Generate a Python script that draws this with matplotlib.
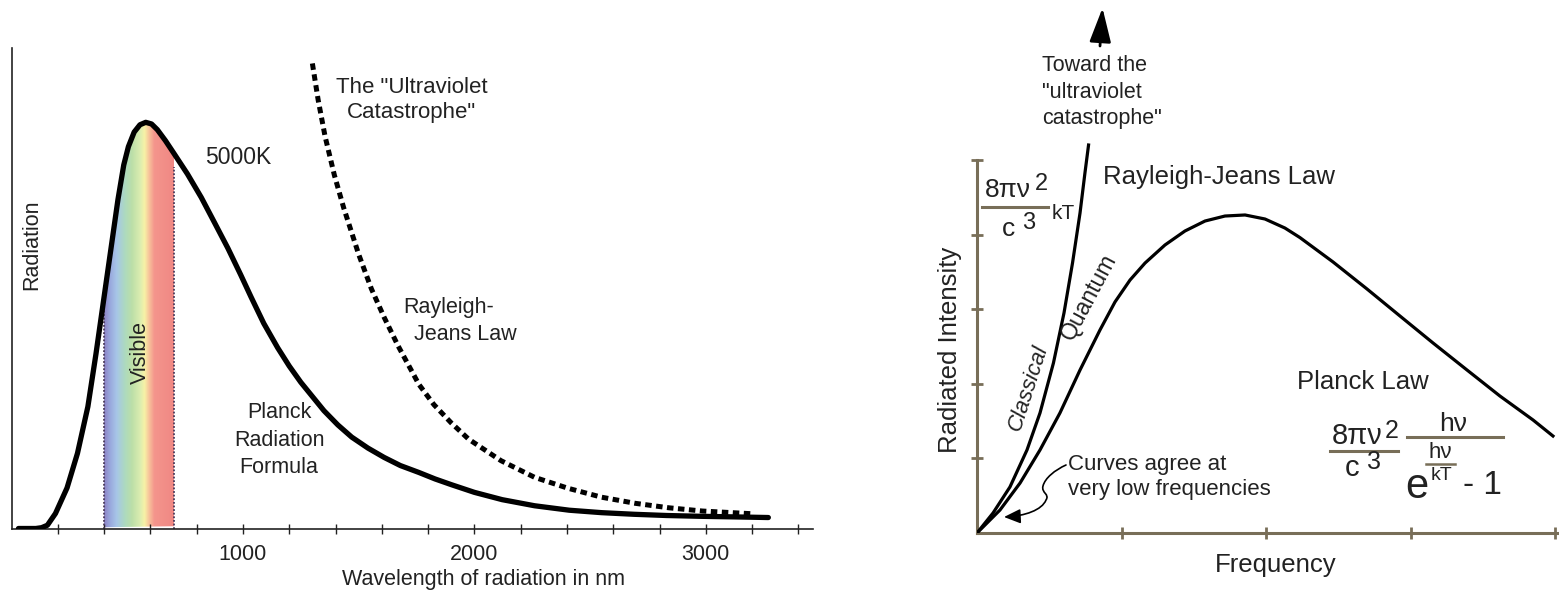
# Radiacion de cuerpo negro: Planck vs Rayleigh-Jeans
# Panel izquierdo: espectro en longitud de onda (5000 K)
# Panel derecho: intensidad en funcion de la frecuencia
########################################################################################
import numpy as np
import matplotlib
matplotlib.use('Agg')
import matplotlib.pyplot as plt
from matplotlib.colors import LinearSegmentedColormap
from matplotlib.patches import Polygon, FancyArrowPatch
from matplotlib.lines import Line2D
from matplotlib.path import Path
########################################################################################

plt.rcParams['font.family'] = ['Liberation Sans', 'DejaVu Sans']

# ---------------- datos panel izquierdo ----------------
# curva de Planck a 5000K (nm, % del maximo)
planck_nm = [30, 105, 130, 155, 190, 240, 285, 330, 365, 400, 430, 460, 485, 505,
             530, 555, 580, 605, 630, 665, 700, 760, 820, 880, 935, 990, 1035, 1090,
             1150, 1200, 1250, 1300, 1350, 1410, 1470, 1540, 1610, 1680, 1760, 1830,
             1900, 2000, 2120, 2260, 2410, 2550, 2690, 2830, 2980, 3130, 3270]
planck_rad = [0, 0, 0.2, 0.8, 3.7, 10, 18.5, 30, 43, 57, 69, 81, 89.5, 94,
              97.6, 99.4, 100, 99.6, 98.2, 95.5, 92.5, 87.3, 81.5, 75, 69, 62.5, 57, 50.5,
              44.5, 40, 36, 32.5, 29, 25.5, 22.5, 19.8, 17.5, 15.5, 13.8, 12.2,
              10.8, 8.9, 7.1, 5.6, 4.5, 3.9, 3.5, 3.2, 3.0, 2.85, 2.7]

# ley de Rayleigh-Jeans (punteada)
rj_nm = [1300, 1325, 1355, 1395, 1435, 1500, 1555, 1610, 1670, 1760, 1825, 1900,
         1975, 2115, 2260, 2405, 2550, 2695, 2840, 2985, 3210]
rj_rad = [114.5, 105.5, 96.5, 87, 79, 67.5, 59, 52, 45, 35.5, 30.5, 26,
          22, 16.7, 12.6, 9.9, 7.7, 6.2, 5.1, 4.3, 3.6]

# bordes de la banda visible y altura de las lineas punteadas
visible_edges = [400, 700]
visible_edge_top = [60, 89]

wl_ticks = list(range(200, 3401, 200))
wl_labels = ['1000', '2000', '3000']

# ---------------- datos panel derecho ----------------
freq_classical = [0, 0.111, 0.228, 0.346, 0.436, 0.529, 0.602, 0.661, 0.713, 0.747, 0.772]
int_classical = [0, 0.268, 0.617, 1.113, 1.609, 2.279, 2.949, 3.619, 4.290, 4.826, 5.201]

freq_quantum = [0, 0.159, 0.298, 0.436, 0.574, 0.713, 0.851, 0.955, 1.059, 1.163,
                1.301, 1.439, 1.578, 1.716, 1.855, 1.993, 2.131, 2.235, 2.464, 2.699,
                2.927, 3.156, 3.391, 3.619, 3.848, 3.986]
int_quantum = [0, 0.308, 0.670, 1.113, 1.609, 2.185, 2.721, 3.097, 3.391, 3.619,
               3.861, 4.048, 4.182, 4.249, 4.263, 4.209, 4.088, 3.960, 3.633, 3.271,
               2.909, 2.547, 2.185, 1.836, 1.515, 1.300]

freq_ticks = [1, 2, 3, 4]
int_ticks = [1, 2, 3, 4, 5]

########################################################################################
W, H = 1559, 596
TEXT = '#222222'
AXC = '#786e58'   # color de los ejes del panel derecho

def fx(x):
    return x / W

def fy(y):
    return 1 - y / H

def label(x, y, s, **kw):
    kw.setdefault('color', TEXT)
    return fig.text(fx(x), fy(y), s, **kw)

def bar(x0, x1, y, lw=2.2):
    fig.add_artist(Line2D([fx(x0), fx(x1)], [fy(y), fy(y)],
                          transform=fig.transFigure, color=AXC, lw=lw))

fig = plt.figure(figsize=(W / 100, H / 100), dpi=100)

# ================= panel izquierdo =================
ax1 = fig.add_axes([fx(11.5), fy(528.5), 801.5 / W, 480.5 / H])

# banda visible con degradado, recortada bajo la curva
vis_colors = [(0.0, '#8c82c4'), (0.08, '#98a6dc'), (0.18, '#a7c6e8'),
              (0.30, '#addabf'), (0.40, '#bcdfa8'), (0.52, '#dcedb0'),
              (0.58, '#f7f2a6'), (0.65, '#f7c09a'), (0.72, '#f4958c'),
              (1.0, '#f08884')]
cmap = LinearSegmentedColormap.from_list('visible', vis_colors)
grad = np.linspace(0, 1, 256).reshape(1, -1)
im = ax1.imshow(grad, extent=[visible_edges[0], visible_edges[1], 0, 110],
                aspect='auto', cmap=cmap, zorder=1, interpolation='bilinear')
clip = Polygon(np.column_stack([planck_nm, planck_rad]), closed=True,
               transform=ax1.transData, facecolor='none', edgecolor='none')
im.set_clip_path(clip)

ax1.vlines(visible_edges, 0, visible_edge_top, colors='#4a3a5a',
           linestyles=(0, (1, 1)), lw=1.3, zorder=2)

ax1.plot(planck_nm, planck_rad, color='black', lw=3.8,
         solid_capstyle='round', solid_joinstyle='round', zorder=3)
ax1.plot(rj_nm, rj_rad, color='black', lw=3.6, linestyle=(0, (1.3, 0.9)),
         dash_capstyle='butt', zorder=3)

ax1.set_xlim(0, 3463)
ax1.set_ylim(0, 118.3)
ax1.set_xticks(wl_ticks)
ax1.set_xticklabels([str(t) if str(t) in wl_labels else '' for t in wl_ticks])
ax1.set_yticks([])
ax1.tick_params(axis='x', direction='inout', length=7, width=1,
                labelsize=15.5, pad=8, colors='#222222')
for s in ['top', 'right']:
    ax1.spines[s].set_visible(False)
for s in ['left', 'bottom']:
    ax1.spines[s].set_color('#222222')
    ax1.spines[s].set_linewidth(1.2)

label(32, 245, 'Radiation', rotation=90, ha='center', va='center', fontsize=15.5)
label(140, 352, 'Visible', rotation=90, ha='center', va='center', fontsize=15.5)
label(205, 157, '5000K', ha='left', va='center', fontsize=16.5)
label(412, 100, 'The "Ultraviolet\nCatastrophe"', ha='center', va='center',
      multialignment='center', fontsize=16, linespacing=1.3)
label(403, 307, 'Rayleigh-', ha='left', va='center', fontsize=15.5)
label(414, 334, 'Jeans Law', ha='left', va='center', fontsize=15.5)
label(279, 440, 'Planck\nRadiation\nFormula', ha='center', va='center',
      multialignment='center', fontsize=15.5, linespacing=1.38)
label(483, 580, 'Wavelength of radiation in nm', ha='center', va='center',
      fontsize=15.5)

# ================= panel derecho =================
ax2 = fig.add_axes([fx(977), fy(533), 584 / W, 533 / H])
ax2.plot(freq_classical, int_classical, color='black', lw=2.3, zorder=3,
         solid_joinstyle='round')
ax2.plot(freq_quantum, int_quantum, color='black', lw=2.3, zorder=3,
         solid_joinstyle='round')

ax2.set_xlim(0, 584 / 144.5)
ax2.set_ylim(0, 533 / 74.6)
ax2.set_xticks(freq_ticks)
ax2.set_yticks(int_ticks)
ax2.set_xticklabels([])
ax2.set_yticklabels([])
ax2.tick_params(direction='inout', length=9, width=2, colors=AXC)
for s in ['top', 'right']:
    ax2.spines[s].set_visible(False)
for s in ['left', 'bottom']:
    ax2.spines[s].set_color(AXC)
    ax2.spines[s].set_linewidth(2.2)
ax2.spines['left'].set_bounds(0, 5)
ax2.spines['bottom'].set_bounds(0, 584 / 144.5)

# flecha hacia la catastrofe ultravioleta
fig.add_artist(FancyArrowPatch((fx(1100), fy(46)), (fx(1102.5), fy(8)),
                               transform=fig.transFigure, shrinkA=0, shrinkB=0,
                               arrowstyle='-|>,head_length=1.05,head_width=0.33',
                               mutation_scale=20, lw=2, color='black'))

# flecha ondulada "Curves agree"
verts = [(1066, 465), (1055, 470), (1045, 478), (1043, 486),
         (1041, 493), (1050, 494), (1046, 500),
         (1042, 510), (1025, 516), (1004, 517)]
codes = [Path.MOVETO] + [Path.CURVE4] * 9
path = Path([(fx(x), fy(y)) for x, y in verts], codes)
fig.add_artist(FancyArrowPatch(path=path, transform=fig.transFigure,
                               shrinkA=0, shrinkB=0,
                               arrowstyle='-|>,head_length=0.5,head_width=0.22',
                               mutation_scale=20, lw=1.2, color='black'))

label(1042, 92, 'Toward the\n"ultraviolet\ncatastrophe"', ha='left', va='center',
      fontsize=15.5, linespacing=1.32)
label(1103, 177, 'Rayleigh-Jeans Law', ha='left', va='center', fontsize=18.5)
label(950, 350, 'Radiated Intensity', rotation=90, ha='center', va='center',
      fontsize=18.5)
label(1089, 297, 'Quantum', rotation=62, ha='center', va='center',
      rotation_mode='anchor', fontsize=16.5)
label(1028, 388, 'Classical', rotation=72, ha='center', va='center',
      rotation_mode='anchor', fontsize=16, style='italic')
label(1068, 477, 'Curves agree at\nvery low frequencies', ha='left', va='center',
      fontsize=16, linespacing=1.3)
label(1297, 382, 'Planck Law', ha='left', va='center', fontsize=18.5)
label(1276, 565, 'Frequency', ha='center', va='center', fontsize=18.5)

# formula de Rayleigh-Jeans
label(985, 190, '8πν', ha='left', va='center', fontsize=19)
label(1035, 184, '2', ha='left', va='center', fontsize=17)
bar(982, 1048, 207)
label(1002, 229, 'c', ha='left', va='center', fontsize=19)
label(1022, 223, '3', ha='left', va='center', fontsize=17)
label(1052, 213, 'kT', ha='left', va='center', fontsize=15)

# formula de Planck
label(1332, 436, '8πν', ha='left', va='center', fontsize=21)
label(1385, 431, '2', ha='left', va='center', fontsize=18)
bar(1330, 1398, 451)
label(1345, 468, 'c', ha='left', va='center', fontsize=21)
label(1367, 462, '3', ha='left', va='center', fontsize=18)
label(1453, 424, 'hν', ha='center', va='center', fontsize=19)
bar(1407, 1503, 437)
label(1440, 452, 'hν', ha='center', va='center', fontsize=16)
bar(1426, 1455, 464, lw=1.8)
label(1441, 475, 'kT', ha='center', va='center', fontsize=14)
label(1417, 487, 'e', ha='center', va='center', fontsize=30)
label(1463, 486, '- 1', ha='left', va='center', fontsize=24)

fig.savefig('out.png', dpi=100)
